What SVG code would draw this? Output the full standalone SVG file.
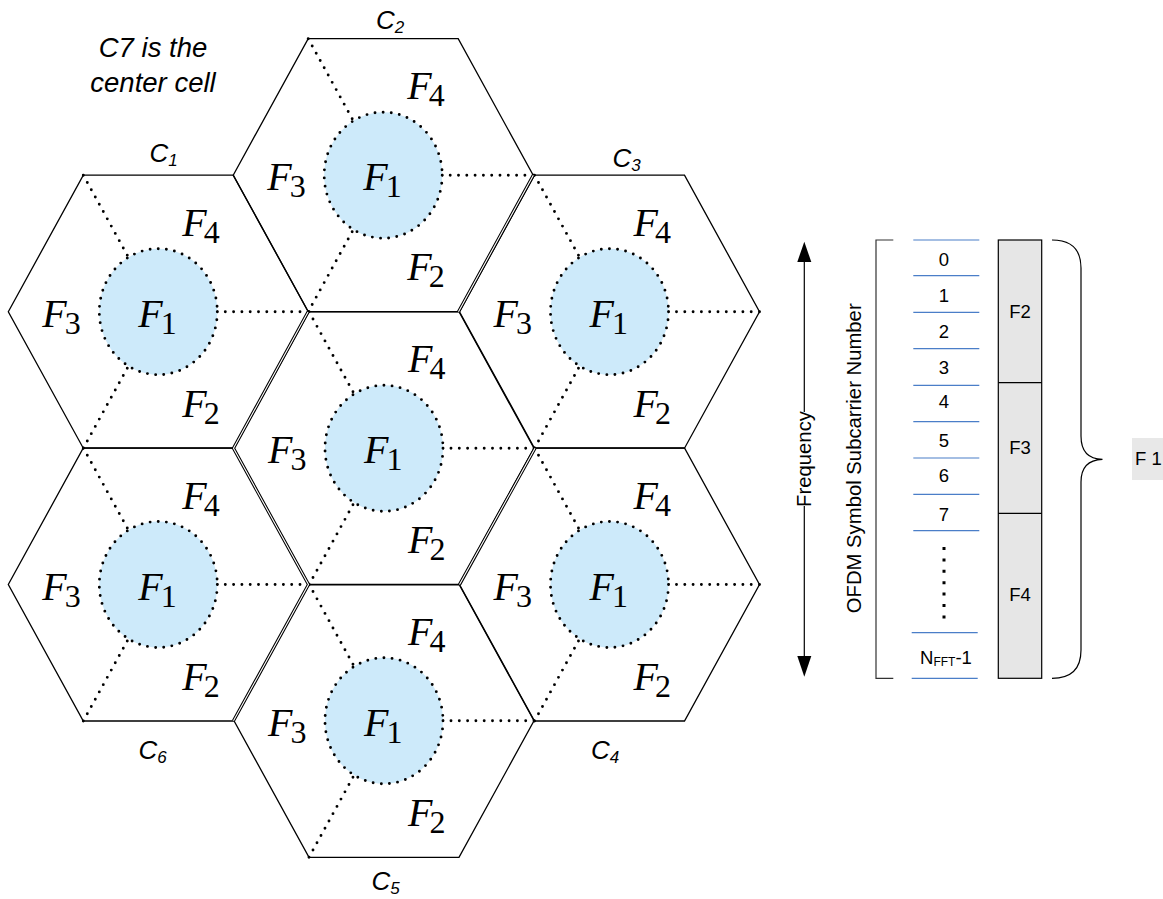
<svg xmlns="http://www.w3.org/2000/svg" width="1163" height="899" viewBox="0 0 1163 899">
<defs>
<style>
.hex{fill:none;stroke:#000;stroke-width:1.3}
.dot{fill:none;stroke:#000;stroke-width:2.9;stroke-linecap:round;stroke-dasharray:0 8.3}
.cir{fill:#cdeafa;stroke:#000;stroke-width:2.9;stroke-linecap:round;stroke-dasharray:0 8.2}
.f{font-family:"Liberation Serif","Times New Roman",serif;font-style:italic;font-size:40px;fill:#000}
.s{font-style:normal;font-size:32px}
.c{font-family:"Liberation Sans",Arial,sans-serif;font-style:italic;font-size:26px;fill:#000}
.cs{font-size:17px}
.note{font-family:"Liberation Sans",Arial,sans-serif;font-style:italic;font-size:27.5px;fill:#000}
.t{font-family:"Liberation Sans",Arial,sans-serif;font-size:18.5px;fill:#000}
.tb{font-family:"Liberation Sans",Arial,sans-serif;font-size:18.5px;fill:#000}
.r{font-family:"Liberation Sans",Arial,sans-serif;font-size:20.3px;fill:#000}
.bl{stroke:#4a7ec8;stroke-width:1.2}
.ln{stroke:#000;stroke-width:1.2;fill:none}
.dbl1{stroke:#000;stroke-width:3.2;fill:none}
.dbl2{stroke:#fff;stroke-width:1.1;fill:none}
</style>
<g id="cellT">
<path class="hex" d="M-150,0 L-75,-136.5 L75,-136.5 L150,0 L75,136.5 L-75,136.5 Z"/>
<path class="dot" d="M-75,-136.5 L0,0 M-75,136.5 L0,0 M150,0 L0,0"/>
<ellipse class="cir" cx="0" cy="0" rx="59" ry="63"/>
<text class="f" x="24" y="-76">F<tspan class="s" dx="-3" dy="7">4</tspan></text>
<text class="f" x="-116" y="15">F<tspan class="s" dx="-2" dy="7">3</tspan></text>
<text class="f" x="-20" y="15">F<tspan class="s" dx="-2" dy="7">1</tspan></text>
<text class="f" x="24" y="105">F<tspan class="s" dx="-3" dy="7">2</tspan></text>
</g>
</defs>
<rect width="1163" height="899" fill="#fff"/>

<g id="C2"><use href="#cellT" x="383.2" y="175.2"/><text class="c" x="376" y="28.5">C<tspan class="cs" dy="4">2</tspan></text></g>
<g id="C1"><use href="#cellT" x="158.3" y="311.7"/><text class="c" x="149.5" y="162">C<tspan class="cs" dy="4">1</tspan></text></g>
<g id="C3"><use href="#cellT" x="609.5" y="311.7"/><text class="c" x="612.5" y="166.7">C<tspan class="cs" dy="4">3</tspan></text></g>
<g id="C7"><use href="#cellT" x="384" y="448.3"/></g>
<g id="C6"><use href="#cellT" x="158.3" y="584.5"/><text class="c" x="138.5" y="759.3">C<tspan class="cs" dy="4">6</tspan></text></g>
<g id="C4"><use href="#cellT" x="609.5" y="584.5"/><text class="c" x="591" y="759.3">C<tspan class="cs" dy="4">4</tspan></text></g>
<g id="C5"><use href="#cellT" x="384" y="720.8"/><text class="c" x="371.5" y="890">C<tspan class="cs" dy="4">5</tspan></text></g>

<g id="shared-edges">
<path class="dbl1" d="M308,312 L233.5,448.3 L308.5,584.6 L233.5,720.8 M533.3,175.2 L458.5,311.7 M535,448.3 L459.5,584.6"/>
<path class="dbl2" d="M308,312 L233.5,448.3 L308.5,584.6 L233.5,720.8 M533.3,175.2 L458.5,311.7 M535,448.3 L459.5,584.6"/>
</g>

<g id="note">
<text class="note" x="153" y="56.7" text-anchor="middle">C7 is the</text>
<text class="note" x="153" y="91.7" text-anchor="middle">center cell</text>
</g>

<g id="frequency-axis">
<line class="ln" x1="804.3" y1="258" x2="804.3" y2="412"/>
<line class="ln" x1="804.3" y1="506" x2="804.3" y2="660"/>
<polygon points="804.3,241.7 797.3,262 811.3,262" fill="#000"/>
<polygon points="804.3,676.7 797.3,656 811.3,656" fill="#000"/>
<text class="r" transform="translate(811,459) rotate(-90)" text-anchor="middle">Frequency</text>
<text class="r" transform="translate(861,458.3) rotate(-90)" text-anchor="middle">OFDM Symbol Subcarrier Number</text>
</g>

<g id="subcarriers">
<path d="M893.3,240 H876 V678.3 H893.3" fill="none" stroke="#333" stroke-width="1.2"/>
<g class="bl">
<line x1="913.3" y1="240" x2="979.3" y2="240"/>
<line x1="913.3" y1="275.7" x2="979.3" y2="275.7"/>
<line x1="913.3" y1="312.3" x2="979.3" y2="312.3"/>
<line x1="913.3" y1="348.7" x2="979.3" y2="348.7"/>
<line x1="913.3" y1="385.3" x2="979.3" y2="385.3"/>
<line x1="913.3" y1="421.7" x2="979.3" y2="421.7"/>
<line x1="913.3" y1="458" x2="979.3" y2="458"/>
<line x1="913.3" y1="494.3" x2="979.3" y2="494.3"/>
<line x1="913.3" y1="530.7" x2="979.3" y2="530.7"/>
<line x1="911.7" y1="632.7" x2="977.7" y2="632.7"/>
<line x1="911.7" y1="678.3" x2="977.7" y2="678.3"/>
</g>
<g class="t" text-anchor="middle">
<text x="944" y="266">0</text>
<text x="944" y="301.7">1</text>
<text x="944" y="338.3">2</text>
<text x="944" y="374.3">3</text>
<text x="944" y="408.3">4</text>
<text x="944" y="447.3">5</text>
<text x="944" y="481.7">6</text>
<text x="944" y="520.7">7</text>
</g>
<line x1="944" y1="547" x2="944" y2="620" stroke="#000" stroke-width="3" stroke-dasharray="3 8.4"/>
<text class="t" x="920" y="664">N<tspan font-size="12" dy="2">FFT</tspan><tspan dy="-2">-1</tspan></text>
</g>

<g id="F-blocks">
<rect x="998.3" y="240" width="43.4" height="438.3" fill="#e6e6e6" stroke="#000" stroke-width="1.2"/>
<line class="ln" x1="998.3" y1="382.7" x2="1041.7" y2="382.7"/>
<line class="ln" x1="998.3" y1="513.3" x2="1041.7" y2="513.3"/>
<g class="tb" text-anchor="middle">
<text x="1020" y="318">F2</text>
<text x="1020" y="453.5">F3</text>
<text x="1020" y="601">F4</text>
</g>
</g>

<g id="brace">
<path class="ln" d="M1052,240 Q1081,240 1081,268 V436 Q1081,459 1102.5,459.3 Q1081,460 1081,482 V650 Q1081,678.3 1052,678.3"/>
</g>

<g id="F1-label">
<rect x="1132" y="438" width="32" height="42" fill="#e8e8e8"/>
<text class="t" x="1135" y="465">F 1</text>
</g>
</svg>
